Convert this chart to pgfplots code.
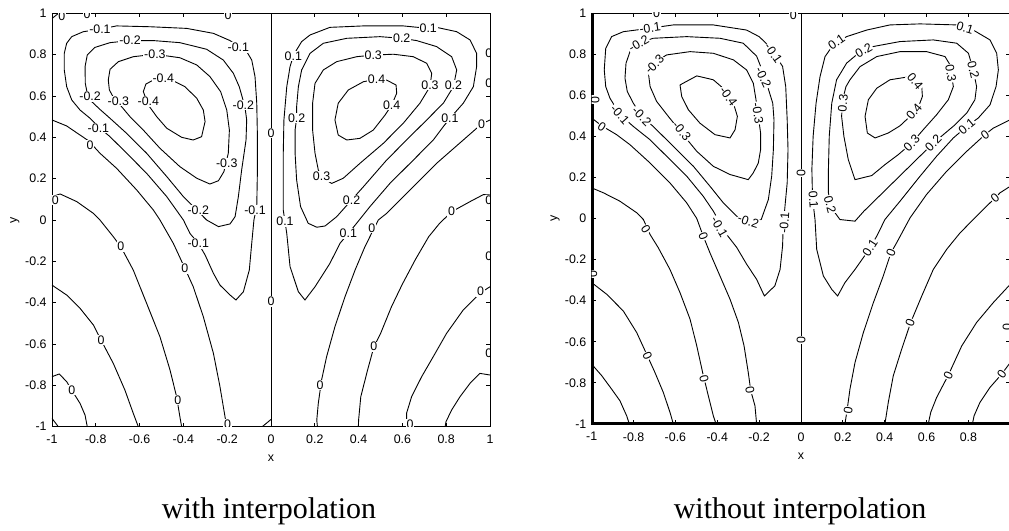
\documentclass[border=0pt]{standalone}
\usepackage{fontspec}
\setmainfont{Liberation Sans}
\newfontfamily\capfont{Liberation Serif}
\usepackage{pgfplots}
\pgfplotsset{compat=1.18}
\newcommand\tfont{\fontsize{6.2}{7.4}\selectfont}
\tikzset{lb/.style={font=\tfont, fill=white, inner sep=0.4pt}}
\pgfplotsset{
  myaxis/.style={
    scale only axis, xmin=-1,xmax=1,ymin=-1,ymax=1,
    xtick={-1,-0.8,-0.6,-0.4,-0.2,0,0.2,0.4,0.6,0.8,1},
    ytick={-1,-0.8,-0.6,-0.4,-0.2,0,0.2,0.4,0.6,0.8,1},
    yticklabels={-1,-0.8,-0.6,-0.4,-0.2,0,0.2,0.4,0.6,0.8,1},
    tick align=inside, tick pos=both, major tick length=2pt,
    tick style={black, line width=0.4pt},
    axis line style={line width=0.45pt},
    ticklabel style={font=\tfont, inner sep=0pt},
    xticklabel style={yshift=-4pt},
    yticklabel style={xshift=-2.5pt},
    label style={font=\tfont, inner sep=0pt},
    xlabel={x}, ylabel={y},
    xlabel style={at={(axis description cs:0.5,0)}, anchor=center, yshift=-16pt},
  },
  ctr/.style={black, line width=0.45pt, no markers},
}
\begin{document}
\begin{tikzpicture}[x=1pt,y=1pt]
\useasboundingbox (0,0) rectangle (504.5,265.5);
% ---------------- with interpolation ----------------
\begin{axis}[myaxis, at={(26pt,52.15pt)}, anchor=south west, width=219pt, height=206.7pt,
  xticklabels={-1,-0.8,-0.6,-0.4,-0.2,0,0.2,0.4,0.6,0.8,1},
  ylabel style={at={(axis description cs:-0.0845,0.5)}, anchor=center}]
% negative vortex
\addplot[ctr] coordinates {(-0.781,0.923)(-0.857,0.911)(-0.910,0.887)(-0.933,0.855)(-0.944,0.806)(-0.944,0.726)(-0.933,0.645)(-0.910,0.581)(-0.872,0.532)(-0.826,0.492)(-0.781,0.444)(-0.735,0.403)(-0.659,0.323)(-0.568,0.226)(-0.476,0.113)(-0.400,0.000)(-0.370,-0.065)(-0.332,-0.113)(-0.301,-0.169)(-0.263,-0.258)(-0.233,-0.315)(-0.187,-0.363)(-0.160,-0.387)(-0.126,-0.347)(-0.099,-0.242)(-0.088,-0.113)(-0.078,0.000)(-0.065,0.065)(-0.062,0.242)(-0.062,0.403)(-0.065,0.565)(-0.073,0.694)(-0.088,0.774)(-0.111,0.815)(-0.149,0.839)(-0.187,0.868)(-0.263,0.903)(-0.385,0.927)(-0.553,0.935)(-0.705,0.939)(-0.781,0.923)};
\addplot[ctr] coordinates {(-0.644,0.868)(-0.735,0.858)(-0.804,0.835)(-0.839,0.798)(-0.849,0.742)(-0.848,0.661)(-0.839,0.613)(-0.819,0.573)(-0.781,0.535)(-0.735,0.492)(-0.659,0.419)(-0.568,0.323)(-0.476,0.210)(-0.400,0.113)(-0.339,0.048)(-0.294,0.000)(-0.240,-0.032)(-0.187,-0.019)(-0.164,0.016)(-0.149,0.113)(-0.134,0.242)(-0.114,0.387)(-0.111,0.484)(-0.119,0.548)(-0.145,0.645)(-0.172,0.710)(-0.218,0.774)(-0.294,0.826)(-0.416,0.858)(-0.537,0.868)(-0.644,0.868)};
\addplot[ctr] coordinates {(-0.530,0.802)(-0.629,0.790)(-0.697,0.766)(-0.735,0.729)(-0.743,0.677)(-0.738,0.629)(-0.720,0.594)(-0.682,0.548)(-0.644,0.500)(-0.583,0.435)(-0.507,0.347)(-0.416,0.258)(-0.339,0.202)(-0.279,0.174)(-0.240,0.190)(-0.215,0.234)(-0.195,0.323)(-0.190,0.435)(-0.202,0.532)(-0.230,0.621)(-0.279,0.694)(-0.339,0.750)(-0.416,0.785)(-0.530,0.802)};
\addplot[ctr] coordinates {(-0.583,0.621)(-0.571,0.658)(-0.530,0.681)(-0.461,0.681)(-0.393,0.645)(-0.339,0.589)(-0.309,0.532)(-0.301,0.476)(-0.317,0.403)(-0.355,0.387)(-0.408,0.400)(-0.476,0.444)(-0.522,0.500)(-0.560,0.556)(-0.583,0.621)};
% zero lines, left half
\addplot[ctr] coordinates {(-1,0.484)(-0.933,0.455)(-0.872,0.411)(-0.834,0.384)(-0.781,0.323)(-0.705,0.250)(-0.613,0.145)(-0.537,0.048)(-0.507,0.000)(-0.446,-0.113)(-0.393,-0.234)(-0.355,-0.323)(-0.309,-0.468)(-0.263,-0.645)(-0.233,-0.806)(-0.210,-0.952)(-0.202,-1.0)};
\addplot[ctr] coordinates {(-1,0.113)(-0.963,0.126)(-0.887,0.089)(-0.811,0.032)(-0.781,0.000)(-0.720,-0.081)(-0.686,-0.129)(-0.629,-0.242)(-0.568,-0.403)(-0.507,-0.565)(-0.461,-0.726)(-0.431,-0.855)(-0.416,-0.952)(-0.408,-1.0)};
\addplot[ctr] coordinates {(-1,-0.315)(-0.933,-0.363)(-0.872,-0.427)(-0.811,-0.508)(-0.776,-0.581)(-0.720,-0.694)(-0.667,-0.823)(-0.629,-0.935)(-0.606,-1.0)};
\addplot[ctr] coordinates {(-1,-0.758)(-0.967,-0.745)(-0.933,-0.782)(-0.910,-0.823)(-0.872,-0.887)(-0.849,-0.944)(-0.839,-1.0)};
\addplot[ctr] coordinates {(-1,-0.96)(-0.971,-1)};
\addplot[ctr] coordinates {(-1,0.975)(-0.97,1)};
\addplot[ctr] coordinates {(0,-1)(0,1)};
\addplot[ctr] coordinates {(-0.04,-1)(0,-0.965)};
% positive vortex
\addplot[ctr] coordinates {(0.102,0.794)(0.087,0.742)(0.072,0.645)(0.059,0.484)(0.056,0.323)(0.056,0.161)(0.056,0.048)(0.064,-0.008)(0.072,-0.065)(0.087,-0.226)(0.125,-0.347)(0.155,-0.387)(0.201,-0.323)(0.269,-0.210)(0.315,-0.113)(0.353,-0.065)(0.391,-0.016)(0.452,0.065)(0.543,0.177)(0.650,0.290)(0.741,0.387)(0.787,0.452)(0.817,0.492)(0.878,0.565)(0.924,0.645)(0.939,0.742)(0.939,0.806)(0.909,0.871)(0.848,0.911)(0.756,0.932)(0.718,0.927)(0.604,0.939)(0.422,0.939)(0.269,0.932)(0.178,0.895)(0.140,0.863)(0.117,0.823)(0.102,0.794)};
\addplot[ctr] coordinates {(0.117,0.492)(0.110,0.435)(0.110,0.323)(0.117,0.194)(0.135,0.065)(0.170,-0.016)(0.209,-0.035)(0.247,-0.029)(0.300,0.016)(0.368,0.097)(0.422,0.161)(0.528,0.290)(0.619,0.387)(0.711,0.484)(0.787,0.565)(0.833,0.645)(0.848,0.726)(0.825,0.790)(0.756,0.839)(0.665,0.868)(0.597,0.879)(0.498,0.887)(0.346,0.879)(0.239,0.855)(0.178,0.806)(0.140,0.726)(0.125,0.645)(0.117,0.548)(0.117,0.492)};
\addplot[ctr] coordinates {(0.467,0.798)(0.391,0.790)(0.300,0.766)(0.239,0.726)(0.201,0.661)(0.190,0.565)(0.190,0.435)(0.201,0.323)(0.216,0.242)(0.239,0.202)(0.277,0.177)(0.330,0.202)(0.406,0.274)(0.513,0.371)(0.604,0.468)(0.680,0.565)(0.726,0.645)(0.734,0.710)(0.711,0.758)(0.650,0.790)(0.559,0.802)(0.467,0.798)};
\addplot[ctr] coordinates {(0.482,0.681)(0.422,0.669)(0.353,0.629)(0.307,0.565)(0.292,0.484)(0.307,0.411)(0.346,0.387)(0.406,0.395)(0.467,0.435)(0.521,0.508)(0.551,0.556)(0.574,0.613)(0.571,0.653)(0.528,0.677)(0.482,0.681)};
% zero lines, right half
\addplot[ctr] coordinates {(1,0.484)(0.962,0.465)(0.878,0.387)(0.756,0.274)(0.635,0.145)(0.528,0.032)(0.490,0.0)(0.467,-0.048)(0.429,-0.129)(0.384,-0.242)(0.338,-0.371)(0.292,-0.516)(0.254,-0.661)(0.231,-0.774)(0.216,-0.887)(0.209,-0.968)(0.212,-1.0)};
\addplot[ctr] coordinates {(1,0.121)(0.97,0.123)(0.909,0.089)(0.825,0.040)(0.77,-0.016)(0.72,-0.081)(0.66,-0.19)(0.60,-0.31)(0.55,-0.42)(0.50,-0.55)(0.47,-0.613)(0.44,-0.73)(0.41,-0.855)(0.40,-0.968)(0.399,-1.0)};
\addplot[ctr] coordinates {(1,-0.323)(0.957,-0.352)(0.878,-0.435)(0.802,-0.548)(0.741,-0.661)(0.688,-0.758)(0.642,-0.855)(0.619,-0.935)(0.619,-1.0)};
\addplot[ctr] coordinates {(1,-0.750)(0.954,-0.742)(0.909,-0.790)(0.863,-0.855)(0.825,-0.919)(0.799,-0.976)(0.795,-1.0)};
% labels
\node[lb] at (axis cs:-0.781,0.923) {-0.1};
\node[lb] at (axis cs:-0.644,0.868) {-0.2};
\node[lb] at (axis cs:-0.530,0.802) {-0.3};
\node[lb] at (axis cs:-0.492,0.685) {-0.4};
\node[lb] at (axis cs:-0.149,0.834) {-0.1};
\node[lb] at (axis cs:-0.826,0.597) {-0.2};
\node[lb] at (axis cs:-0.697,0.576) {-0.3};
\node[lb] at (axis cs:-0.560,0.573) {-0.4};
\node[lb] at (axis cs:-0.126,0.556) {-0.2};
\node[lb] at (axis cs:-0.788,0.444) {-0.1};
\node[lb] at (axis cs:-0.202,0.274) {-0.3};
\node[lb] at (axis cs:-0.332,0.048) {-0.2};
\node[lb] at (axis cs:-0.073,0.048) {-0.1};
\node[lb] at (axis cs:-0.332,-0.113) {-0.1};
\node[lb] at (axis cs:-0.826,0.363) {0};
\node[lb] at (axis cs:0,0.42) {0};
\node[lb] at (axis cs:0,-0.395) {0};
\node[lb] at (axis cs:-0.985,0.097) {0};
\node[lb] at (axis cs:-0.686,-0.129) {0};
\node[lb] at (axis cs:-0.393,-0.234) {0};
\node[lb] at (axis cs:-0.776,-0.581) {0};
\node[lb] at (axis cs:-0.910,-0.823) {0};
\node[lb] at (axis cs:-0.426,-0.871) {0};
\node[lb] at (axis cs:-0.198,-0.987) {0};
\node[lb] at (axis cs:-0.84,0.995) {0};
\node[lb] at (axis cs:-0.196,0.99) {0};
\node[lb] at (axis cs:-0.955,0.985) {0};
\node[lb] at (axis cs:0.718,0.927) {0.1};
\node[lb] at (axis cs:0.597,0.879) {0.2};
\node[lb] at (axis cs:0.467,0.798) {0.3};
\node[lb] at (axis cs:0.482,0.681) {0.4};
\node[lb] at (axis cs:0.102,0.794) {0.1};
\node[lb] at (axis cs:0.726,0.653) {0.3};
\node[lb] at (axis cs:0.833,0.653) {0.2};
\node[lb] at (axis cs:0.551,0.556) {0.4};
\node[lb] at (axis cs:0.117,0.492) {0.2};
\node[lb] at (axis cs:0.817,0.492) {0.1};
\node[lb] at (axis cs:0.231,0.210) {0.3};
\node[lb] at (axis cs:0.368,0.097) {0.2};
\node[lb] at (axis cs:0.064,-0.008) {0.1};
\node[lb] at (axis cs:0.353,-0.065) {0.1};
\node[lb] at (axis cs:0.962,0.465) {0};
\node[lb] at (axis cs:0.825,0.040) {0};
\node[lb] at (axis cs:0.460,-0.040) {0};
\node[lb] at (axis cs:0.957,-0.347) {0};
\node[lb] at (axis cs:0.470,-0.613) {0};
\node[lb] at (axis cs:0.224,-0.798) {0};
\node[lb] at (axis cs:0.635,-0.987) {0};
\node[lb] at (axis cs:0.995,0.806) {0};
\node[lb] at (axis cs:0.995,0.661) {0};
\node[lb] at (axis cs:0.995,0.097) {0};
\node[lb] at (axis cs:0.995,-0.177) {0};
\node[lb] at (axis cs:0.995,-0.645) {0};
\end{axis}
% ---------------- without interpolation ----------------
\begin{axis}[myaxis, at={(295.85pt,53.5pt)}, anchor=south west, width=209.3pt, height=205.5pt,
  xticklabels={-1,-0.8,-0.6,-0.4,-0.2,0,0.2,0.4,0.6,0.8,{}},
  ylabel style={at={(axis description cs:-0.0874,0.5)}, anchor=center}]
\addplot[black, line width=2pt, no markers] coordinates {(-1,1)(-1,-1)(1,-1)};
\addplot[ctr] coordinates {(-0.721,0.926)(-0.849,0.909)(-0.905,0.885)(-0.933,0.828)(-0.940,0.723)(-0.933,0.642)(-0.913,0.586)(-0.865,0.505)(-0.801,0.448)(-0.721,0.383)(-0.642,0.303)(-0.546,0.206)(-0.467,0.108)(-0.419,0.036)(-0.387,-0.021)(-0.355,-0.078)(-0.307,-0.141)(-0.260,-0.222)(-0.212,-0.296)(-0.175,-0.377)(-0.125,-0.328)(-0.100,-0.248)(-0.088,-0.134)(-0.085,-0.037)(-0.075,0.076)(-0.066,0.173)(-0.062,0.335)(-0.066,0.481)(-0.073,0.642)(-0.088,0.740)(-0.124,0.796)(-0.164,0.850)(-0.200,0.885)(-0.260,0.917)(-0.419,0.942)(-0.610,0.942)(-0.721,0.926)};
\addplot[ctr] coordinates {(-0.706,0.877)(-0.777,0.853)(-0.817,0.812)(-0.836,0.756)(-0.841,0.683)(-0.830,0.618)(-0.801,0.561)(-0.761,0.497)(-0.706,0.448)(-0.610,0.351)(-0.514,0.254)(-0.435,0.157)(-0.371,0.076)(-0.307,0.011)(-0.252,-0.013)(-0.190,-0.005)(-0.156,0.092)(-0.140,0.206)(-0.132,0.335)(-0.129,0.481)(-0.135,0.561)(-0.165,0.660)(-0.185,0.720)(-0.212,0.790)(-0.276,0.853)(-0.387,0.877)(-0.546,0.885)(-0.706,0.877)};
\addplot[ctr] coordinates {(-0.642,0.796)(-0.530,0.812)(-0.419,0.804)(-0.323,0.772)(-0.260,0.723)(-0.228,0.659)(-0.215,0.578)(-0.204,0.497)(-0.193,0.416)(-0.193,0.335)(-0.204,0.270)(-0.228,0.222)(-0.252,0.189)(-0.339,0.214)(-0.419,0.254)(-0.498,0.327)(-0.570,0.416)(-0.634,0.497)(-0.690,0.570)(-0.721,0.642)(-0.729,0.707)(-0.706,0.756)(-0.642,0.796)};
\addplot[ctr] coordinates {(-0.578,0.650)(-0.498,0.694)(-0.419,0.675)(-0.363,0.626)(-0.323,0.561)(-0.304,0.497)(-0.315,0.432)(-0.339,0.392)(-0.411,0.408)(-0.483,0.464)(-0.538,0.529)(-0.570,0.594)(-0.578,0.650)};
\addplot[ctr] coordinates {(-1,0.489)(-0.952,0.451)(-0.881,0.408)(-0.817,0.359)(-0.721,0.270)(-0.626,0.173)(-0.546,0.076)(-0.498,0.0)(-0.467,-0.086)(-0.435,-0.167)(-0.387,-0.280)(-0.339,-0.393)(-0.299,-0.506)(-0.272,-0.620)(-0.252,-0.749)(-0.240,-0.838)(-0.220,-0.911)(-0.212,-1.0)};
\addplot[ctr] coordinates {(-1,0.149)(-0.944,0.125)(-0.865,0.084)(-0.785,0.028)(-0.753,-0.005)(-0.721,-0.078)(-0.682,-0.142)(-0.626,-0.248)(-0.578,-0.361)(-0.530,-0.490)(-0.498,-0.620)(-0.470,-0.749)(-0.443,-0.862)(-0.419,-0.960)(-0.406,-1.0)};
\addplot[ctr] coordinates {(-1,-0.312)(-0.928,-0.369)(-0.849,-0.450)(-0.785,-0.555)(-0.734,-0.668)(-0.698,-0.749)(-0.658,-0.846)(-0.626,-0.943)(-0.610,-1.0)};
\addplot[ctr] coordinates {(-1,-0.709)(-0.952,-0.765)(-0.905,-0.830)(-0.865,-0.887)(-0.833,-0.960)(-0.820,-1.0)};
\addplot[ctr] coordinates {(0,-1)(0,1)};
\addplot[ctr] coordinates {(0.072,0.561)(0.058,0.400)(0.052,0.240)(0.055,0.100)(0.067,-0.005)(0.075,-0.150)(0.107,-0.280)(0.147,-0.345)(0.175,-0.377)(0.210,-0.312)(0.258,-0.248)(0.314,-0.167)(0.362,-0.086)(0.401,-0.005)(0.473,0.084)(0.569,0.206)(0.648,0.303)(0.728,0.392)(0.792,0.448)(0.847,0.489)(0.903,0.553)(0.932,0.642)(0.943,0.723)(0.935,0.804)(0.903,0.869)(0.823,0.917)(0.744,0.942)(0.569,0.947)(0.425,0.942)(0.314,0.917)(0.218,0.885)(0.154,0.845)(0.115,0.788)(0.091,0.691)(0.072,0.561)};
\addplot[ctr] coordinates {(0.131,0.125)(0.131,0.238)(0.135,0.400)(0.147,0.561)(0.170,0.675)(0.218,0.756)(0.274,0.804)(0.346,0.837)(0.473,0.861)(0.632,0.869)(0.744,0.853)(0.800,0.804)(0.823,0.723)(0.839,0.642)(0.831,0.578)(0.792,0.513)(0.736,0.456)(0.680,0.408)(0.632,0.367)(0.55,0.285)(0.47,0.205)(0.40,0.135)(0.34,0.075)(0.30,0.035)(0.258,-0.013)(0.186,-0.005)(0.151,0.044)(0.139,0.084)(0.131,0.125)};
\addplot[ctr] coordinates {(0.234,0.675)(0.282,0.739)(0.362,0.788)(0.473,0.812)(0.600,0.812)(0.688,0.788)(0.712,0.748)(0.720,0.691)(0.728,0.642)(0.704,0.578)(0.648,0.505)(0.584,0.432)(0.529,0.367)(0.465,0.311)(0.401,0.262)(0.338,0.209)(0.258,0.189)(0.226,0.286)(0.205,0.400)(0.194,0.497)(0.199,0.578)(0.215,0.642)(0.234,0.675)};
\addplot[ctr] coordinates {(0.505,0.688)(0.425,0.675)(0.362,0.634)(0.322,0.578)(0.306,0.497)(0.317,0.416)(0.354,0.392)(0.417,0.416)(0.473,0.451)(0.521,0.497)(0.561,0.542)(0.580,0.594)(0.577,0.642)(0.553,0.667)(0.505,0.688)};
\addplot[ctr] coordinates {(1,0.481)(0.919,0.440)(0.879,0.408)(0.792,0.327)(0.696,0.230)(0.600,0.117)(0.521,0.003)(0.457,-0.118)(0.430,-0.167)(0.393,-0.280)(0.346,-0.409)(0.298,-0.555)(0.258,-0.701)(0.234,-0.830)(0.221,-0.927)(0.210,-1.0)};
\addplot[ctr] coordinates {(1,0.157)(0.951,0.125)(0.927,0.100)(0.871,0.044)(0.823,-0.005)(0.760,-0.070)(0.696,-0.150)(0.632,-0.248)(0.577,-0.377)(0.524,-0.506)(0.481,-0.636)(0.441,-0.765)(0.417,-0.895)(0.401,-1.0)};
\addplot[ctr] coordinates {(1,-0.320)(0.919,-0.409)(0.839,-0.506)(0.768,-0.620)(0.704,-0.762)(0.648,-0.871)(0.620,-0.943)(0.608,-1.0)};
\addplot[ctr] coordinates {(1,-0.701)(0.959,-0.757)(0.903,-0.822)(0.855,-0.895)(0.827,-0.960)(0.819,-1.0)};
% labels
\node[lb, rotate=8] at (axis cs:-0.721,0.926) {-0.1};
\node[lb, rotate=30] at (axis cs:-0.775,0.85) {-0.2};
\node[lb, rotate=45] at (axis cs:-0.70,0.75) {-0.3};
\node[lb, rotate=-55] at (axis cs:-0.347,0.594) {-0.4};
\node[lb, rotate=-55] at (axis cs:-0.132,0.804) {-0.1};
\node[lb, rotate=-65] at (axis cs:-0.180,0.685) {-0.2};
\node[lb, rotate=-82] at (axis cs:-0.206,0.513) {-0.3};
\node[lb, rotate=-48] at (axis cs:-0.865,0.505) {-0.1};
\node[lb, rotate=-45] at (axis cs:-0.761,0.497) {-0.2};
\node[lb, rotate=-51] at (axis cs:-0.570,0.424) {-0.3};
\node[lb, rotate=-34] at (axis cs:-0.952,0.445) {0};
\node[lb, rotate=90] at (axis cs:-0.984,0.578) {0};
\node[lb, rotate=90] at (axis cs:-0.995,-0.27) {0};
\node[lb, rotate=-60] at (axis cs:-0.39,-0.04) {-0.1};
\node[lb, rotate=-18] at (axis cs:-0.252,-0.013) {-0.2};
\node[lb, rotate=-58] at (axis cs:-0.741,-0.053) {0};
\node[lb, rotate=-69] at (axis cs:-0.467,-0.086) {0};
\node[lb, rotate=-65] at (axis cs:-0.734,-0.668) {0};
\node[lb, rotate=-76] at (axis cs:-0.463,-0.778) {0};
\node[lb, rotate=-79] at (axis cs:-0.244,-0.835) {0};
\node[lb, rotate=86] at (axis cs:-0.080,-0.02) {-0.1};
\node[lb, rotate=90] at (axis cs:0,0.222) {0};
\node[lb, rotate=90] at (axis cs:0,-0.591) {0};
\node[lb] at (axis cs:-0.69,0.998) {0};
\node[lb] at (axis cs:-0.037,0.99) {0};
\node[lb, rotate=35] at (axis cs:0.170,0.858) {0.1};
\node[lb, rotate=30] at (axis cs:0.300,0.818) {0.2};
\node[lb, rotate=-17] at (axis cs:0.784,0.926) {0.1};
\node[lb, rotate=-76] at (axis cs:0.823,0.723) {0.2};
\node[lb, rotate=-80] at (axis cs:0.716,0.707) {0.3};
\node[lb, rotate=-50] at (axis cs:0.545,0.667) {0.4};
\node[lb, rotate=50] at (axis cs:0.540,0.520) {0.4};
\node[lb, rotate=85] at (axis cs:0.200,0.561) {0.3};
\node[lb, rotate=40] at (axis cs:0.792,0.448) {0.1};
\node[lb, rotate=45] at (axis cs:0.632,0.367) {0.2};
\node[lb, rotate=45] at (axis cs:0.529,0.367) {0.3};
\node[lb, rotate=-75] at (axis cs:0.139,0.068) {0.2};
\node[lb, rotate=-86] at (axis cs:0.060,0.092) {0.1};
\node[lb, rotate=57] at (axis cs:0.330,-0.142) {0.1};
\node[lb, rotate=37] at (axis cs:0.879,0.408) {0};
\node[lb, rotate=40] at (axis cs:0.927,0.100) {0};
\node[lb, rotate=68] at (axis cs:0.430,-0.167) {0};
\node[lb, rotate=69] at (axis cs:0.521,-0.506) {0};
\node[lb, rotate=64] at (axis cs:0.704,-0.762) {0};
\node[lb, rotate=53] at (axis cs:0.959,-0.757) {0};
\node[lb, rotate=81] at (axis cs:0.226,-0.935) {0};
\node[lb, rotate=90] at (axis cs:0.985,-0.53) {0};
\end{axis}
\node[font=\capfont\fontsize{15}{18}\selectfont, anchor=base, inner sep=0pt] at (134.5,6) {with interpolation};
\node[font=\capfont\fontsize{15}{18}\selectfont, anchor=base, inner sep=0pt] at (400,6) {without interpolation};
\end{tikzpicture}
\end{document}
